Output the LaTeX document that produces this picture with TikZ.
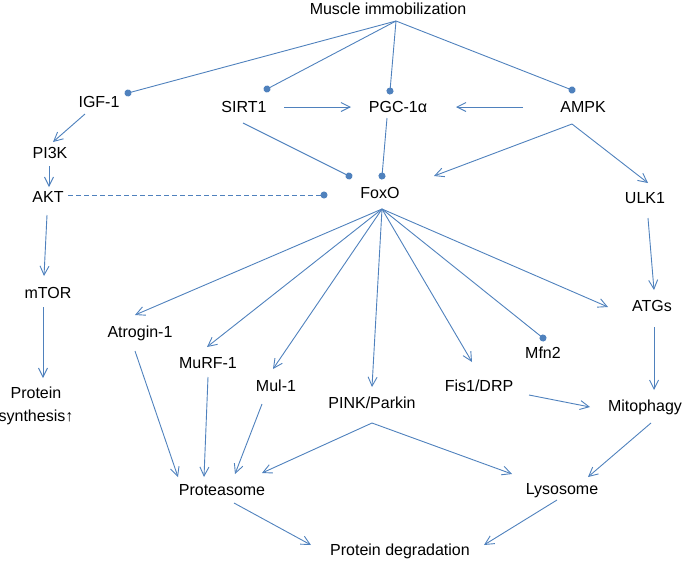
\documentclass[tikz,border=0pt]{standalone}
\usepackage{fontspec}
\setmainfont{Liberation Sans}
\usepackage{tikz}
\usetikzlibrary{arrows.meta}
\definecolor{linkblue}{RGB}{79,129,189}
\tikzstyle{gene} = [inner sep=0pt, text height=11.5pt, text depth=0pt]
\tikzstyle{act} = [color=linkblue, line width=0.9pt, -{Straight Barb[length=9pt,width=9pt,line width=0.9pt]}]
\tikzstyle{inh} = [color=linkblue, line width=0.9pt, -{Circle[length=7pt]}, shorten >=-3.5pt]
\begin{document}
\begin{tikzpicture}[x=1pt,y=-1pt,font=\fontsize{16}{23}\selectfont]
\useasboundingbox (0,0) rectangle (683,560);
			\node[gene](musc) at (388,9) {Muscle immobilization};
			\node[gene](igf) at (99,102) {IGF-1};
			\node[gene](sirt) at (244,107) {SIRT1};
			\node[gene](pgc) at (398,107) {PGC-1α};
			\node[gene](ampk) at (583,107) {AMPK};
			\node[gene](pik) at (50,153) {PI3K};
			\node[gene](akt) at (48,197) {AKT};
			\node[gene](foxo) at (380,193) {FoxO};
			\node[gene](ulk) at (645,198) {ULK1};
			\node[gene](mtor) at (48,293) {mTOR};
			\node[align=center,inner sep=0pt,anchor=north](synth) at (36,387) {Protein\\synthesis↑};
			\node[gene](atg) at (652,306) {ATGs};
			\node[gene](atro) at (140,332) {Atrogin-1};
			\node[gene](murf) at (208,363) {MuRF-1};
			\node[gene](mfn) at (543,353) {Mfn2};
			\node[gene](mul) at (276,386) {Mul-1};
			\node[gene](fis) at (479,386) {Fis1/DRP};
			\node[gene](pink) at (372,403) {PINK/Parkin};
			\node[gene](mito) at (645,406) {Mitophagy};
			\node[gene](prot) at (222,490) {Proteasome};
			\node[gene](lyso) at (562,489) {Lysosome};
			\node[gene](degr) at (400,550) {Protein degradation};
			\coordinate (top) at ([shift={(8,12)}]musc.center);
			\coordinate (hub) at ([shift={(2,16)}]foxo.center);
			\coordinate (ampkfoot) at ([shift={(-11,17)}]ampk.center);
			\coordinate (pinkfoot) at ([shift={(0,20)}]pink.center);
			% inhibition with dot ends
			\path[inh]
			(top) edge ([shift={(29,-9)}]igf.center)
			(top) edge ([shift={(23,-18)}]sirt.center)
			(top) edge ([shift={(-8,-16)}]pgc.center)
			(top) edge ([shift={(-11,-17)}]ampk.center)
			([shift={(-1,16)}]sirt.center) edge ([shift={(-31,-17)}]foxo.center)
			([shift={(-11,11)}]pgc.center) edge ([shift={(2,-17)}]foxo.center)
			(hub) edge ([shift={(0,-15)}]mfn.center);
			\path[inh,dash pattern=on 5pt off 3pt]
			([shift={(20,-2)}]akt.center) edge ([shift={(-56,2)}]foxo.center);
			% activation
			\path[act]
			([shift={(40,0)}]sirt.center) edge ([shift={(-47,0)}]pgc.center)
			([shift={(-60,0)}]ampk.center) edge ([shift={(58,0)}]pgc.center)
			(ampkfoot) edge ([shift={(54,-17)}]foxo.center)
			(ampkfoot) edge ([shift={(3,-15)}]ulk.center)
			([shift={(-14,12)}]igf.center) edge ([shift={(3,-11)}]pik.center)
			([shift={(-1,13)}]pik.center) edge ([shift={(1,-10)}]akt.center)
			([shift={(-1,18)}]akt.center) edge ([shift={(-4,-17)}]mtor.center)
			([shift={(-5,14)}]mtor.center) edge ([shift={(7,-9)}]synth.north)
			([shift={(3,20)}]ulk.center) edge ([shift={(2,-16)}]atg.center)
			(hub) edge ([shift={(-5,-17)}]atro.center)
			(hub) edge ([shift={(-1,-16)}]murf.center)
			(hub) edge ([shift={(-3,-17)}]mul.center)
			(hub) edge ([shift={(0,-16)}]pink.center)
			(hub) edge ([shift={(-7,-24)}]fis.center)
			(hub) edge ([shift={(-44,1)}]atg.center)
			([shift={(2,21)}]atg.center) edge ([shift={(9,-16)}]mito.center)
			([shift={(50,9)}]fis.center) edge ([shift={(-55,1)}]mito.center)
			([shift={(-5,19)}]atro.center) edge ([shift={(-44,-13)}]prot.center)
			([shift={(0,14)}]murf.center) edge ([shift={(-18,-13)}]prot.center)
			([shift={(-14,18)}]mul.center) edge ([shift={(13,-16)}]prot.center)
			(pinkfoot) edge ([shift={(40,-17)}]prot.center)
			(pinkfoot) edge ([shift={(-50,-15)}]lyso.center)
			([shift={(6,17)}]mito.center) edge ([shift={(26,-12)}]lyso.center)
			([shift={(12,13)}]prot.center) edge ([shift={(-89,-5)}]degr.center)
			([shift={(-5,11)}]lyso.center) edge ([shift={(84,-5)}]degr.center);
\end{tikzpicture}
\end{document}
